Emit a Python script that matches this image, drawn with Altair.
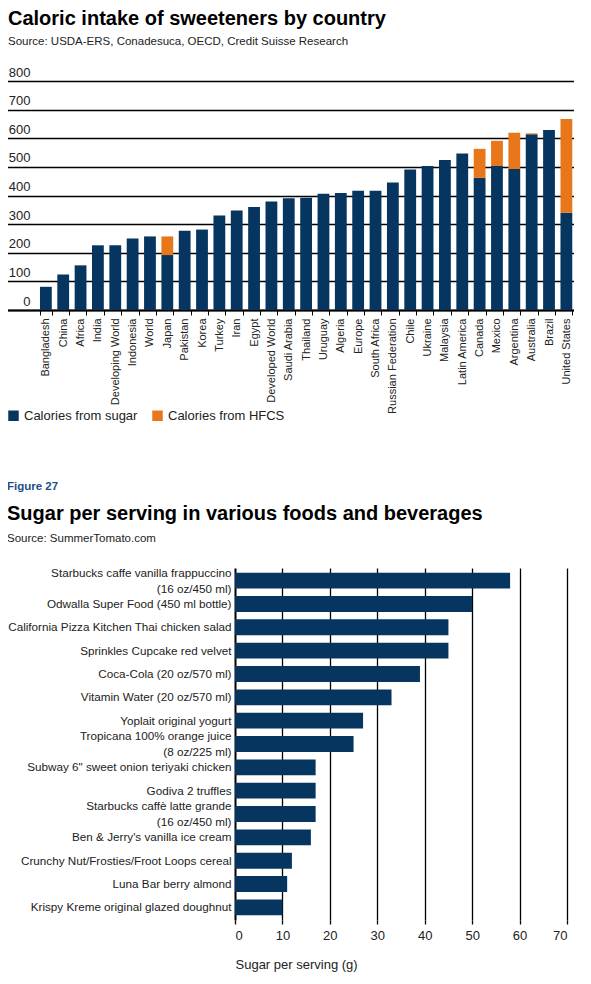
import altair as alt
import pandas as pd

NAVY = "#06365f"
ORANGE = "#e8761a"
FONT = "Liberation Sans"

countries = ["Bangladesh", "China", "Africa", "India", "Developing World", "Indonesia",
             "World", "Japan", "Pakistan", "Korea", "Turkey", "Iran", "Egypt",
             "Developed World", "Saudi Arabia", "Thailand", "Uruguay", "Algeria",
             "Europe", "South Africa", "Russian Federation", "Chile", "Ukraine",
             "Malaysia", "Latin America", "Canada", "Mexico", "Argentina",
             "Australia", "Brazil", "United States"]
sugar_cal = [81, 124, 156, 226, 226, 250, 257, 192, 277, 281, 330, 348, 360,
             379, 390, 392, 406, 409, 417, 417, 445, 491, 503, 524, 547,
             462, 503, 493, 614, 629, 340]
hfcs_cal = [0, 0, 0, 0, 0, 0, 0, 65, 0, 0, 0, 0, 0,
            0, 0, 0, 0, 0, 0, 0, 0, 0, 0, 0, 0,
            101, 88, 126, 3, 0, 327]
series = ["Calories from sugar", "Calories from HFCS"]
y_ticks = [0, 100, 200, 300, 400, 500, 600, 700, 800]

foods = ["Starbucks caffe vanilla frappuccino|(16 oz/450 ml)",
         "Odwalla Super Food (450 ml bottle)",
         "California Pizza Kitchen Thai chicken salad",
         "Sprinkles Cupcake red velvet",
         "Coca-Cola (20 oz/570 ml)",
         "Vitamin Water (20 oz/570 ml)",
         "Yoplait original yogurt",
         "Tropicana 100% orange juice|(8 oz/225 ml)",
         "Subway 6\" sweet onion teriyaki chicken",
         "Godiva 2 truffles",
         "Starbucks caffè latte grande|(16 oz/450 ml)",
         "Ben & Jerry's vanilla ice cream",
         "Crunchy Nut/Frosties/Froot Loops cereal",
         "Luna Bar berry almond",
         "Krispy Kreme original glazed doughnut"]
sugar_g = [58, 50, 45, 45, 39, 33, 27, 25, 17, 17, 17, 16, 12, 11, 10]
x_ticks = [0, 10, 20, 30, 40, 50, 60, 70]

rows = []
for c, s, h in zip(countries, sugar_cal, hfcs_cal):
    rows.append({"country": c, "type": series[0], "value": s, "ord": 0})
    rows.append({"country": c, "type": series[1], "value": h, "ord": 1})
df1 = pd.DataFrame(rows)
df2 = pd.DataFrame({"item": foods, "sugar": sugar_g})

top = alt.Chart(df1).mark_bar().encode(
    x=alt.X("country:N", sort=countries,
            scale=alt.Scale(paddingInner=0.32, paddingOuter=1, align=0.95),
            axis=alt.Axis(title=None, labelAngle=270, labelAlign="right",
                          labelBaseline="middle", labelFontSize=11, labelColor="#222",
                          labelPadding=3, tickBand="extent", ticks=True, tickSize=5,
                          tickColor="#000", tickWidth=1, domain=True, domainColor="#000",
                          domainWidth=2, grid=False, labelFont=FONT)),
    y=alt.Y("value:Q", stack="zero", scale=alt.Scale(domain=[0, 800], nice=False),
            axis=alt.Axis(title=None, values=y_ticks, grid=True, gridColor="#000",
                          gridWidth=1.3, domain=False, ticks=False, labelAlign="right",
                          labelBaseline="bottom", labelPadding=-23, labelOffset=-2,
                          labelFontSize=13, labelColor="#222", labelFont=FONT)),
    color=alt.Color("type:N", scale=alt.Scale(domain=series, range=[NAVY, ORANGE]),
                    legend=alt.Legend(title=None, orient="none", legendX=0, legendY=328,
                                      direction="horizontal", symbolType="square",
                                      symbolSize=110, symbolStrokeWidth=0,
                                      labelFontSize=13, labelColor="#222", labelFont=FONT,
                                      columnPadding=13, labelOffset=4)),
    order=alt.Order("ord:Q", sort="ascending"),
).properties(
    width=567, height=229,
    title=alt.Title("Caloric intake of sweeteners by country",
                    subtitle="Source: USDA-ERS, Conadesuca, OECD, Credit Suisse Research",
                    anchor="start", fontSize=20, font=FONT, fontWeight="bold",
                    color="#000", subtitleFontSize=11.5, subtitleFont=FONT,
                    subtitleColor="#222", subtitlePadding=7, offset=19, dx=7),
)

two_line = "indexof(datum.label, '|') >= 0"

bottom = alt.Chart(df2).mark_bar(color=NAVY).encode(
    y=alt.Y("item:N", sort=None,
            scale=alt.Scale(paddingInner=0.32, paddingOuter=0.2),
            axis=alt.Axis(title=None, labelExpr="split(datum.label, '|')",
                          labelFontSize=11.7, labelColor="#222", labelFont=FONT,
                          labelAlign="right", labelPadding=-224, labelLimit=400,
                          labelLineHeight=16,
                          labelOffset=alt.condition(two_line, alt.value(-8), alt.value(0)),
                          ticks=False, domain=False)),
    x=alt.X("sugar:Q", scale=alt.Scale(domain=[0, 70], nice=False, range=[228, 560]),
            axis=alt.Axis(title="Sugar per serving (g)", values=x_ticks, grid=True,
                          gridColor="#000",
                          gridWidth=alt.condition("datum.value == 0", alt.value(2), alt.value(1.3)),
                          domain=False, ticks=True,
                          tickSize=4, tickColor="#000", tickWidth=1.3,
                          labelPadding=5, labelFontSize=13, labelColor="#222",
                          labelFont=FONT, titleAnchor="start", titleAlign="left",
                          titleFontWeight="normal", titleFontSize=13, titleColor="#222",
                          titleFont=FONT, titlePadding=16)),
).properties(
    width=560, height=352,
    title=alt.Title("Sugar per serving in various foods and beverages",
                    subtitle="Source: SummerTomato.com",
                    anchor="start", fontSize=20, font=FONT, fontWeight="bold",
                    color="#000", subtitleFontSize=11.5, subtitleFont=FONT,
                    subtitleColor="#222", subtitlePadding=9, offset=23),
)

fig27 = alt.vconcat(bottom).properties(
    title=alt.Title("Figure 27", anchor="start", fontSize=11.5, font=FONT,
                    fontWeight="bold", color="#1d4f86", offset=11)
)

chart = alt.vconcat(top, fig27, spacing=67).properties(
    padding={"left": -7, "top": 0, "right": 0, "bottom": 4}
).configure(font=FONT).configure_view(strokeWidth=0, stroke="transparent")

chart.save("out.html", embed_options={"renderer": "svg", "actions": False})
